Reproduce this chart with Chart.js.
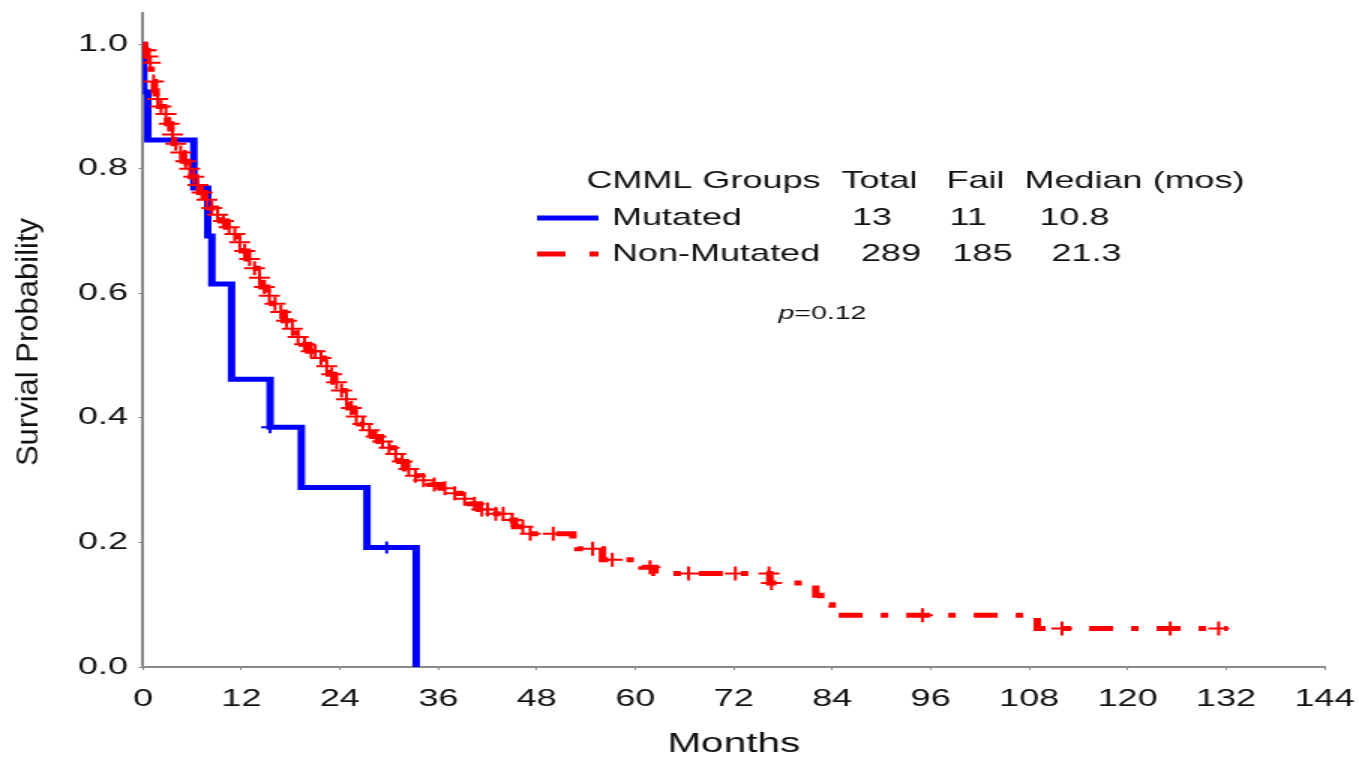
<!DOCTYPE html>
<html>
<head>
<meta charset="utf-8">
<script src="https://cdn.jsdelivr.net/npm/chart.js@4.4.1/dist/chart.umd.min.js"></script>
<style>
  html, body { margin: 0; padding: 0; background: #fff; overflow: hidden; }
  /* the source figure is stretched sideways, so the chart is drawn narrow and widened */
  #wrap { width: 906px; height: 764px; transform: scaleX(1.5); transform-origin: 0 0; }
</style>
</head>
<body>
<div id="wrap"><canvas id="km" width="906" height="764"></canvas></div>
<script>
// Kaplan-Meier steps (months, survival after the step)
const mutatedTimes = [0, 0.1, 0.6, 6.2, 7.9, 8.4, 10.8, 15.5, 19.3, 27.3, 33.3];
const mutatedSurv  = [1.0, 0.923, 0.846, 0.769, 0.692, 0.615, 0.462, 0.385, 0.288, 0.192, 0.0];
const mutatedCensor = [15.5, 29.7];

const nonMutTimes = [0, 0.2, 0.5, 0.8, 1.0, 1.2, 1.4, 1.6, 2.0, 2.5, 3.0, 3.4, 3.8, 4.3, 4.9, 5.4,
  5.9, 6.4, 6.9, 7.5, 8.1, 8.8, 9.5, 10.2, 10.9, 11.5, 12.1, 12.7, 13.3, 13.9, 14.5, 15.1, 15.8,
  16.5, 17.2, 17.9, 18.6, 19.4, 20.2, 21.3, 22.0, 22.7, 23.3, 23.9, 24.5, 25.1, 25.7, 26.4, 27.2,
  28.0, 28.9, 29.7, 30.5, 31.3, 32.0, 32.8, 33.8, 35.0, 36.3, 37.5, 38.6, 39.8, 41.0, 42.5, 44.0,
  45.3, 46.6, 52.4, 53.0, 56.0, 60.8, 62.4, 76.4, 82.0, 82.6, 84.0, 109.0, 132.2];
const nonMutSurv = [1.0, 0.99, 0.98, 0.97, 0.955, 0.94, 0.925, 0.912, 0.9, 0.888, 0.872, 0.855, 0.84,
  0.826, 0.812, 0.8, 0.787, 0.774, 0.762, 0.75, 0.737, 0.726, 0.716, 0.706, 0.695, 0.682, 0.668,
  0.655, 0.64, 0.625, 0.61, 0.596, 0.583, 0.57, 0.556, 0.543, 0.53, 0.518, 0.507, 0.496, 0.483,
  0.47, 0.457, 0.444, 0.43, 0.416, 0.402, 0.39, 0.38, 0.37, 0.362, 0.352, 0.342, 0.33, 0.318,
  0.307, 0.3, 0.293, 0.287, 0.279, 0.27, 0.262, 0.253, 0.246, 0.236, 0.225, 0.214, 0.202, 0.19,
  0.172, 0.16, 0.15, 0.135, 0.115, 0.1, 0.083, 0.062, 0.062];
const nonMutCensor = [0.2, 0.4, 0.6, 0.9, 1.3, 1.8, 2.2, 2.8, 3.2, 3.6, 4.0, 4.6, 5.2, 5.7, 6.2, 6.7,
  7.2, 7.8, 8.4, 9.1, 9.8, 10.5, 11.2, 11.8, 12.4, 13.0, 13.6, 14.2, 14.8, 15.4, 16.1, 16.8, 17.5,
  18.2, 18.9, 19.7, 20.5, 21.0, 21.7, 22.4, 23.0, 23.6, 24.2, 24.8, 25.4, 26.0, 26.8, 27.6, 28.4,
  29.2, 30.0, 30.8, 31.6, 32.4, 33.2, 34.2, 35.5, 36.8, 38.0, 39.2, 40.4, 41.3, 42.0, 43.0, 43.9,
  45.0, 46.3, 47.2, 50.0, 54.8, 57.2, 61.8, 66.5, 72.2, 76.3, 76.6, 95.0, 112.0, 125.2, 131.1];

const xTickValues = [0, 12, 24, 36, 48, 60, 72, 84, 96, 108, 120, 132, 144];
const yTickValues = [0, 0.2, 0.4, 0.6, 0.8, 1.0];

const groups  = ['Mutated', 'Non-Mutated'];
const totals  = [13, 289];
const fails   = [11, 185];
const medians = ['10.8', '21.3'];
const pValue  = '0.12';

const BLUE = '#0000ff';
const RED = '#ff0000';
const FONT = '"Liberation Sans", Arial, sans-serif';

function steps(times, surv) {
  return times.map((t, i) => ({ x: t, y: surv[i] }));
}
// survival at time t, from the step data
function survAt(times, surv, t) {
  let s = surv[0];
  for (let i = 0; i < times.length; i++) {
    if (times[i] <= t) s = surv[i];
  }
  return s;
}
function censorPoints(times, surv, cens) {
  return cens.map(t => ({ x: t, y: survAt(times, surv, t) }));
}

const legendPlugin = {
  id: 'kmLegend',
  afterDraw(chart) {
    const ctx = chart.ctx;
    ctx.save();
    ctx.fillStyle = '#111';
    ctx.textBaseline = 'middle';
    ctx.font = '24px ' + FONT;
    // header
    ctx.fillText('CMML Groups', 391, 181);
    ctx.fillText('Total', 561, 181);
    ctx.fillText('Fail', 631, 181);
    ctx.fillText('Median (mos)', 683, 181);
    // rows
    const rowY = [218, 254];
    const totalX = [568, 574];
    const failX = [633, 635];
    const medX = [693, 701];
    groups.forEach((g, i) => {
      ctx.fillText(g, 408, rowY[i]);
      ctx.fillText(String(totals[i]), totalX[i], rowY[i]);
      ctx.fillText(String(fails[i]), failX[i], rowY[i]);
      ctx.fillText(medians[i], medX[i], rowY[i]);
    });
    // line samples
    ctx.lineWidth = 5;
    ctx.strokeStyle = BLUE;
    ctx.beginPath();
    ctx.moveTo(358, 218); ctx.lineTo(399, 218);
    ctx.stroke();
    ctx.strokeStyle = RED;
    ctx.beginPath();
    ctx.moveTo(358, 254); ctx.lineTo(377, 254);
    ctx.moveTo(393, 254); ctx.lineTo(399, 254);
    ctx.stroke();
    // p value
    ctx.font = 'italic 19px ' + FONT;
    ctx.fillText('p', 519, 314);
    const pw = ctx.measureText('p').width;
    ctx.font = '19px ' + FONT;
    ctx.fillText('=' + pValue, 519 + pw, 314);
    // y axis title, condensed like the source
    ctx.translate(24.5, 342);
    ctx.rotate(-Math.PI / 2);
    ctx.scale(1, 0.66);
    ctx.font = '31px ' + FONT;
    ctx.textAlign = 'center';
    ctx.textBaseline = 'alphabetic';
    ctx.fillText('Survial Probability', 0, 0);
    ctx.restore();
  }
};

new Chart(document.getElementById('km'), {
  type: 'line',
  data: {
    datasets: [
      {
        label: 'Non-Mutated censored',
        data: censorPoints(nonMutTimes, nonMutSurv, nonMutCensor),
        showLine: false,
        pointStyle: 'cross',
        pointRadius: 7,
        pointBorderWidth: 2,
        pointBorderColor: RED,
        order: 0
      },
      {
        label: 'Non-Mutated',
        data: steps(nonMutTimes, nonMutSurv),
        stepped: true,
        borderColor: RED,
        borderWidth: 5,
        borderDash: [16, 12, 5, 12],
        pointRadius: 0,
        fill: false,
        order: 1
      },
      {
        label: 'Mutated censored',
        data: censorPoints(mutatedTimes, mutatedSurv, mutatedCensor),
        showLine: false,
        pointStyle: 'cross',
        pointRadius: 6,
        pointBorderWidth: 2,
        pointBorderColor: BLUE,
        order: 2
      },
      {
        label: 'Mutated',
        data: steps(mutatedTimes, mutatedSurv),
        stepped: true,
        borderColor: BLUE,
        borderWidth: 5,
        pointRadius: 0,
        fill: false,
        order: 3
      }
    ]
  },
  options: {
    responsive: false,
    animation: false,
    events: [],
    layout: { padding: { left: 0, right: 23, top: 13, bottom: 0 } },
    plugins: {
      legend: { display: false },
      tooltip: { enabled: false }
    },
    scales: {
      x: {
        type: 'linear',
        min: 0,
        max: 144,
        afterBuildTicks: s => { s.ticks = xTickValues.map(v => ({ value: v })); },
        afterFit: s => { s.height = 97; s.paddingLeft = 0; s.paddingRight = 0; },
        border: { display: true, color: '#8a8a8a', width: 2 },
        grid: { display: true, drawOnChartArea: false, drawTicks: true, tickLength: 3, color: '#8a8a8a' },
        ticks: { color: '#111', padding: 15, font: { size: 24, family: FONT }, maxRotation: 0 },
        title: {
          display: true,
          text: 'Months',
          color: '#111',
          font: { size: 27, family: FONT },
          padding: { top: 0, bottom: 3 }
        }
      },
      y: {
        type: 'linear',
        min: 0,
        max: 1.05,
        afterBuildTicks: s => { s.ticks = yTickValues.map(v => ({ value: v })); },
        afterFit: s => { s.width = 95.3; s.paddingTop = 0; s.paddingBottom = 0; },
        border: { display: true, color: '#8a8a8a', width: 2 },
        grid: { display: true, drawOnChartArea: false, drawTicks: true, tickLength: 3, color: '#8a8a8a' },
        ticks: {
          color: '#111',
          padding: 7,
          font: { size: 24, family: FONT },
          callback: v => v.toFixed(1)
        }
      }
    }
  },
  plugins: [legendPlugin]
});
</script>
</body>
</html>
